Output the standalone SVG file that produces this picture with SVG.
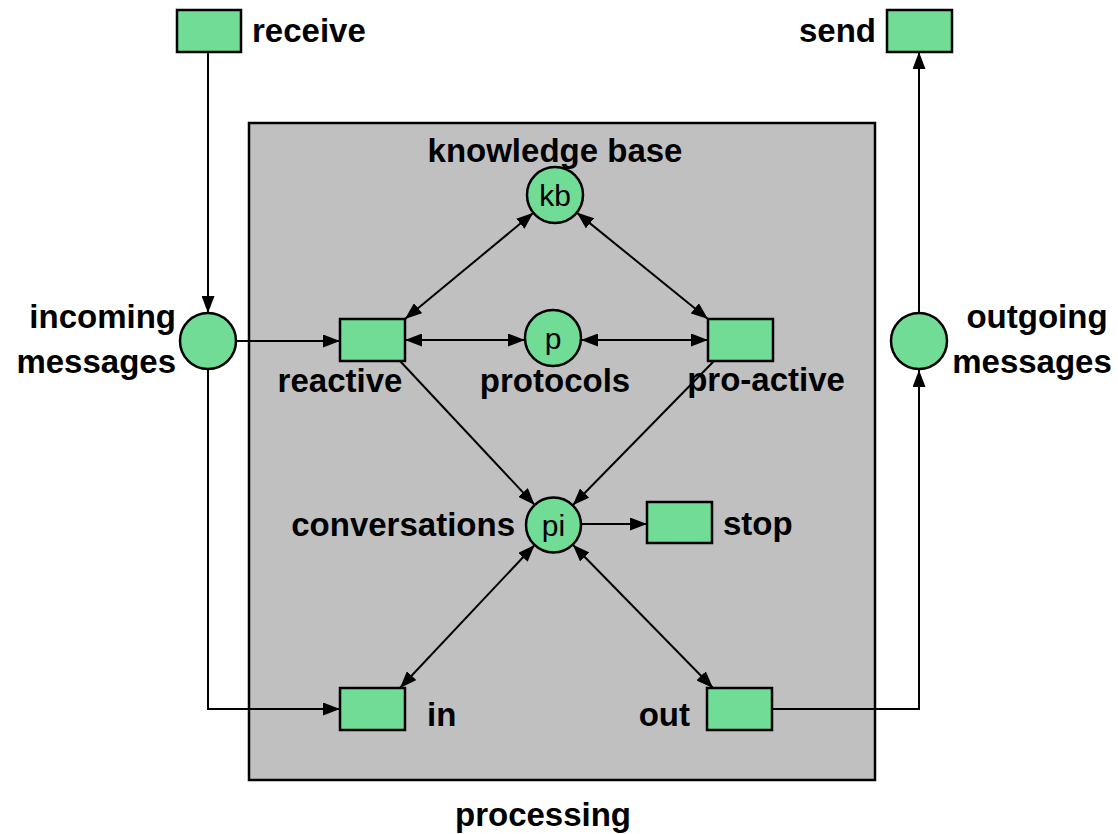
<svg xmlns="http://www.w3.org/2000/svg" width="1118" height="834" viewBox="0 0 1118 834">
<style>
.t{fill:#70DC96;stroke:#000;stroke-width:2.5}
.p{fill:#70DC96;stroke:#000;stroke-width:2.5}
.lbl{font-family:"Liberation Sans",Arial,sans-serif;font-weight:bold;font-size:33px;fill:#000}
.in{font-family:"Liberation Sans",Arial,sans-serif;font-size:30px;fill:#000;text-anchor:middle}
.c{fill:none;stroke:#000;stroke-width:2}
</style>
<defs>
<marker id="ah" markerWidth="17" markerHeight="13" refX="17" refY="6.5" orient="auto-start-reverse" markerUnits="userSpaceOnUse">
<path d="M0,0 L17,6.5 L0,13 Z" fill="#000"/>
</marker>
</defs>
<rect x="249" y="123" width="626" height="657" fill="#C0C0C0" stroke="#000" stroke-width="2.5"/>
<g id="connectors">
<path class="c" d="M208,52 V313" marker-end="url(#ah)"/>
<path class="c" d="M236,341 H340" marker-end="url(#ah)"/>
<path class="c" d="M208,370 V709 H340" marker-end="url(#ah)"/>
<path class="c" d="M533.4,212.8 L405,319" marker-start="url(#ah)" marker-end="url(#ah)"/>
<path class="c" d="M576.8,212.6 L708,319" marker-start="url(#ah)" marker-end="url(#ah)"/>
<path class="c" d="M405,340 H525" marker-start="url(#ah)" marker-end="url(#ah)"/>
<path class="c" d="M581,340 H708" marker-start="url(#ah)" marker-end="url(#ah)"/>
<path class="c" d="M400,361 L534.7,504.9" marker-end="url(#ah)"/>
<path class="c" d="M714,361 L572.7,505.3" marker-end="url(#ah)"/>
<path class="c" d="M581,524 H647" marker-end="url(#ah)"/>
<path class="c" d="M534.6,545 L400,688" marker-start="url(#ah)" marker-end="url(#ah)"/>
<path class="c" d="M572.8,544.7 L713,688" marker-start="url(#ah)" marker-end="url(#ah)"/>
<path class="c" d="M772,709 H919 V370" marker-end="url(#ah)"/>
<path class="c" d="M919,313 V52" marker-end="url(#ah)"/>
</g>
<g id="receive"><rect class="t" x="177" y="10" width="64" height="42"/><text class="lbl" x="252" y="42">receive</text></g>
<g id="send"><rect class="t" x="887" y="10" width="65" height="42"/><text class="lbl" x="876" y="42" text-anchor="end">send</text></g>
<g id="kb"><circle class="p" cx="555" cy="195" r="28"/><text class="in" x="555" y="206">kb</text><text class="lbl" x="555" y="162" text-anchor="middle">knowledge base</text></g>
<g id="incoming"><circle class="p" cx="208" cy="341" r="28"/><text class="lbl" x="176" y="328" text-anchor="end">incoming</text><text class="lbl" x="176" y="373" text-anchor="end">messages</text></g>
<g id="outgoing"><circle class="p" cx="919" cy="341" r="28"/><text class="lbl" x="1037" y="328" text-anchor="middle">outgoing</text><text class="lbl" x="1032" y="373" text-anchor="middle">messages</text></g>
<g id="reactive"><rect class="t" x="340" y="319" width="65" height="42"/><text class="lbl" x="340" y="392" text-anchor="middle">reactive</text></g>
<g id="p"><circle class="p" cx="553" cy="338" r="28"/><text class="in" x="553" y="349">p</text><text class="lbl" x="555" y="392" text-anchor="middle">protocols</text></g>
<g id="proactive"><rect class="t" x="708" y="319" width="65" height="42"/><text class="lbl" x="766" y="391" text-anchor="middle">pro-active</text></g>
<g id="pi"><circle class="p" cx="553.5" cy="525" r="27.5"/><text class="in" x="553.5" y="536">pi</text><text class="lbl" x="515" y="536" text-anchor="end">conversations</text></g>
<g id="stop"><rect class="t" x="647" y="502" width="65" height="41"/><text class="lbl" x="723" y="535">stop</text></g>
<g id="in"><rect class="t" x="340" y="688" width="65" height="42"/><text class="lbl" x="427" y="726">in</text></g>
<g id="out"><rect class="t" x="707" y="688" width="65" height="42"/><text class="lbl" x="690" y="726" text-anchor="end">out</text></g>
<text class="lbl" x="543" y="826" text-anchor="middle">processing</text>
</svg>
